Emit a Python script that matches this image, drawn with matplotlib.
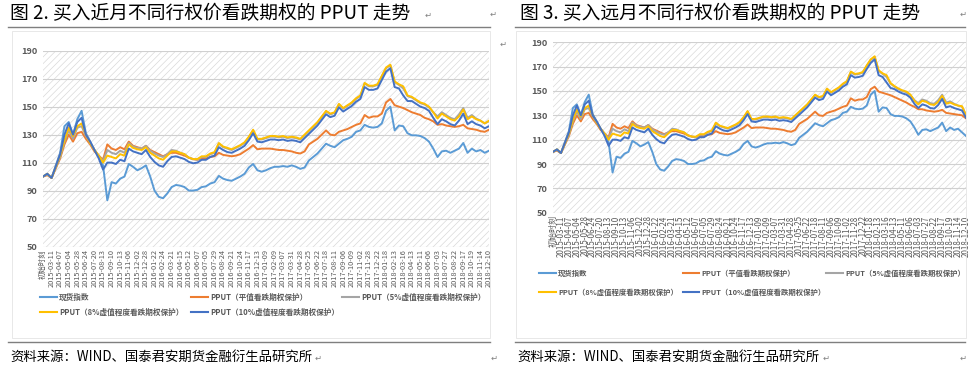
import matplotlib
matplotlib.use("Agg")
import matplotlib.pyplot as plt
from matplotlib.patches import Rectangle
from matplotlib.lines import Line2D

plt.rcParams['font.family'] = ['Noto Sans CJK SC', 'DejaVu Sans']
plt.rcParams['hatch.linewidth'] = 0.5

# tick labels (one every second point)
dates = ["初始时刻", "2015-03-11", "2015-04-07", "2015-05-04", "2015-05-28", "2015-06-24",
         "2015-07-20", "2015-08-13", "2015-09-10", "2015-10-13", "2015-11-06", "2015-12-02",
         "2015-12-28", "2016-01-22", "2016-02-24", "2016-03-21", "2016-04-15", "2016-05-12",
         "2016-06-07", "2016-07-05", "2016-07-29", "2016-08-24", "2016-09-21", "2016-10-24",
         "2016-11-17", "2016-12-13", "2017-01-09", "2017-02-09", "2017-03-07", "2017-03-31",
         "2017-04-28", "2017-05-25", "2017-06-22", "2017-07-18", "2017-08-11", "2017-09-06",
         "2017-10-09", "2017-11-02", "2017-11-28", "2017-12-22", "2018-01-18", "2018-02-13",
         "2018-03-16", "2018-04-13", "2018-05-11", "2018-06-06", "2018-07-03", "2018-07-27",
         "2018-08-22", "2018-09-17", "2018-10-19", "2018-11-14", "2018-12-10"]

names = ["现货指数", "PPUT（平值看跌期权保护）", "PPUT（5%虚值程度看跌期权保护）",
         "PPUT（8%虚值程度看跌期权保护）", "PPUT（10%虚值程度看跌期权保护）"]
colors = ["#5B9BD5", "#ED7D31", "#A5A5A5", "#FFC000", "#4472C4"]

# ---- near month (图2) ----
spot_near = [100, 102, 99, 108, 117, 136, 139, 130, 141, 147, 131, 125, 119, 114, 108,
             83, 96, 95, 98.5, 100, 109, 107, 104.5, 106, 108, 100, 90, 85.5, 84.5, 88,
             92.5, 94, 93.5, 92.5, 90, 90, 90.5, 92.5, 93, 95, 96, 100.5, 98.5, 97.5, 97,
             98.5, 100, 102, 106.5, 109, 104.5, 103.5, 104.5, 106, 107, 107, 107.5, 107, 108, 107,
             105.5, 106.5, 111.5, 114, 116.5, 120, 123.5, 122, 121, 123.5, 126, 127, 128.5, 132, 133,
             137, 135.5, 135, 135.5, 138, 147, 150, 133, 136.5, 136, 131, 129.5, 129.5, 129, 127.5,
             125, 120, 114, 118, 118.5, 117, 118.5, 120, 124, 117, 120, 118, 119, 117, 118.5]
orange_near = [100, 101, 99, 106, 113, 123, 130, 125, 131, 132, 127, 123, 118, 115, 112,
               123, 120, 119, 121, 119.5, 125, 122, 121, 120, 122, 119, 117.5, 116, 114.5, 116,
               117, 117, 116, 115, 113.5, 112.5, 112, 113, 113, 114, 114.5, 117, 115.5, 115, 114.5,
               115, 116, 118, 120, 122.5, 119.5, 120, 120, 120, 119.5, 119, 119, 118.5, 118, 117,
               116.5, 118, 123, 125, 127, 130, 133, 130, 129.5, 132, 133, 134, 135.5, 137, 138,
               144, 142, 143, 143, 145, 153, 155.5, 151, 150, 149, 147.5, 146, 145, 144, 142,
               141, 139.5, 137, 137.5, 136.5, 136, 135.5, 136, 137, 134.5, 134, 133.5, 132.5, 132, 133.5]
gray_near = [100, 101.5, 99, 106.5, 114, 125, 133, 127, 135, 136, 129, 124, 119, 115, 111,
             119, 117, 116, 118.5, 117, 124, 121.5, 120.5, 120, 122, 118.5, 116.5, 115, 114, 116,
             119, 118.5, 117, 116, 113.5, 112.5, 112, 114, 114, 116, 117, 123.5, 121, 120, 119,
             120.5, 122, 124, 128, 133, 126.5, 126.5, 127.5, 128.5, 128.5, 128, 128.5, 127.5, 128, 127.5,
             126.5, 129.5, 132.5, 135.5, 138.5, 142.5, 146.5, 144.5, 145.5, 151.5, 148.5, 150.5, 152.5, 155.5, 157.5,
             166.5, 164.5, 164.5, 165.5, 171.5, 177.5, 179.5, 167.5, 165.5, 163, 157.5, 156.5, 154.5, 152.5, 151.5,
             149.5, 146, 143, 146, 144, 142, 141, 144.5, 149, 142, 144, 141.5, 140, 138, 139.5]
yellow_near = [100, 102, 99, 107, 115, 126, 135, 129, 136, 138, 130, 124, 119, 115, 110,
               115, 114, 113, 116, 115, 123, 120.5, 119.5, 119, 121, 117, 115, 113, 112, 115,
               118, 118, 117, 116, 113.5, 112.5, 112.5, 114.5, 114.5, 116.5, 117.5, 124, 121.5, 120.5, 119.5,
               121, 122.5, 124.5, 128.5, 133.5, 127, 127, 128, 129, 129, 128.5, 129, 128, 128.5, 128,
               127, 130, 133, 136, 139, 143, 147, 145, 146, 152, 149, 151, 153, 156, 158,
               167, 165, 165, 166, 172, 178, 180, 168, 166, 164.5, 158, 157, 155, 153, 152,
               150, 146, 141.5, 145, 143, 141, 140, 143, 148, 141, 143, 141, 140, 138, 140]
dark_near = [100, 102, 99, 107.5, 116, 130, 138, 130, 139, 142, 130, 125, 119, 113, 105,
             110, 110, 109, 112, 111, 120, 118, 117, 116, 119, 114, 110.5, 108, 107, 111,
             114, 114.5, 113.5, 112.5, 110.5, 109.5, 110, 112, 112, 114, 115, 121, 119, 117.5, 117,
             118.5, 120, 122, 126, 131, 125, 124.5, 125.5, 126.5, 126.5, 126, 126.5, 125.5, 126, 125.5,
             124.5, 127.5, 130.5, 133.5, 136.5, 140.5, 144.5, 142.5, 143.5, 149.5, 146.5, 148.5, 150.5, 153.5, 155.5,
             164, 162, 162, 163, 169, 175, 177.5, 164, 163, 158, 154, 154, 152, 150, 149,
             147, 142, 137.5, 141, 139.5, 137.5, 136.5, 140, 145, 137.5, 139.5, 137.5, 136.5, 134.5, 136]

# ---- far month (图3) ----
spot_far = [100, 102, 99, 108, 117, 136, 139, 130, 141, 147, 131, 125, 119, 114, 108,
            83, 96, 95, 98.5, 100, 109, 107, 104.5, 106, 108, 100, 90, 85.5, 84.5, 88,
            92.5, 94, 93.5, 92.5, 90, 90, 90.5, 92.5, 93, 95, 96, 100.5, 98.5, 97.5, 97,
            98.5, 100, 102, 106.5, 109, 104.5, 103.5, 104.5, 106, 107, 107, 107.5, 107, 108, 107,
            105.5, 106.5, 111.5, 114, 116.5, 120, 123.5, 122, 121, 123.5, 126, 127, 128.5, 132, 133,
            137, 135.5, 135, 135.5, 138, 147, 150, 133, 136.5, 136, 131, 129.5, 129.5, 129, 127.5,
            125, 120, 114, 118, 118.5, 117, 118.5, 120, 124, 117, 120, 118, 119, 116, 113]
orange_far = [100, 101, 99, 106, 113, 123, 130, 125, 131, 132, 127, 123, 118, 115, 112,
              123, 120, 119, 121, 119.5, 125, 122, 121, 120, 122, 119, 117.5, 116, 114.5, 116,
              117, 117, 116, 115, 113.5, 112.5, 112, 113, 113, 114, 114.5, 117, 115.5, 115, 114.5,
              115, 116, 118, 120, 122.5, 119.5, 120, 120, 120, 119.5, 119, 119, 118.5, 118, 117,
              116.5, 118, 123, 125, 127, 130, 133, 130, 129.5, 132, 133, 134, 135.5, 137, 138,
              144, 142, 143, 143, 145, 151.5, 153.5, 149.5, 148.5, 147.5, 146.5, 145, 143.5, 142, 140.5,
              138.5, 137, 135, 135, 134, 133.5, 133, 133.5, 134.5, 132, 131.5, 131, 130.5, 130, 127.5]
gray_far = [100, 101.5, 99, 106.5, 114, 125, 133, 127, 135, 136, 129, 124, 119, 115, 111,
            119, 117, 116, 118.5, 117, 124, 121.5, 120.5, 120, 122, 118.5, 116.5, 115, 114, 116,
            119, 118.5, 117, 116, 113.5, 112.5, 112, 114, 114, 116, 117, 123.5, 121, 120, 119,
            120.5, 122, 124, 128, 133, 126.5, 126.5, 127.5, 128.5, 128.5, 128, 128.5, 127.5, 128, 127.5,
            126.5, 129.5, 132.5, 135.5, 138.5, 142.5, 146.5, 144.5, 145.5, 151.5, 148.5, 150.5, 152.5, 155.5, 157.5,
            165.5, 163.5, 164, 165, 170.5, 175.5, 178, 166.5, 164, 161.5, 156, 153.5, 151.5, 150, 149,
            146.5, 142.5, 140, 143, 142, 140, 139.5, 142.5, 147, 140.5, 141.5, 139.5, 138, 137, 130.5]
yellow_far = [100, 102, 99, 107, 115, 126, 135, 129, 136, 138, 130, 124, 119, 115, 110,
              115, 114, 113, 116, 115, 123, 120.5, 119.5, 119, 121, 117, 115, 113, 112, 115,
              118, 118, 117, 116, 113.5, 112.5, 112.5, 114.5, 114.5, 116.5, 117.5, 124, 121.5, 120.5, 119.5,
              121, 122.5, 124.5, 128.5, 133.5, 127, 127, 128, 129, 129, 128.5, 129, 128, 128.5, 128,
              127, 130, 133, 136, 139, 143, 147, 145, 146, 152, 149, 151, 153, 156, 158,
              166, 164, 164.5, 165.5, 171, 176, 178.5, 167, 164.5, 163, 156.5, 154, 152, 150.5, 149.5,
              147, 142, 139, 142, 141, 139, 138.5, 141, 146, 139.5, 140.5, 139, 138, 137.5, 130]
dark_far = [100, 102, 99, 107.5, 116, 130, 138, 130, 139, 142, 130, 125, 119, 113, 105,
            110, 110, 109, 112, 111, 120, 118, 117, 116, 119, 114, 110.5, 108, 107, 111,
            114, 114.5, 113.5, 112.5, 110.5, 109.5, 110, 112, 112, 114, 115, 121, 119, 117.5, 117,
            118.5, 120, 122, 126, 131, 125, 124.5, 125.5, 126.5, 126.5, 126, 126.5, 125.5, 126, 125.5,
            124.5, 127.5, 130.5, 133.5, 136.5, 140.5, 144.5, 142.5, 143.5, 149.5, 146.5, 148.5, 150.5, 153.5, 155.5,
            163, 161, 161.5, 162.5, 168, 173, 176, 163, 161.5, 157, 152.5, 151.5, 149.5, 148, 147,
            144.5, 139.5, 136, 139, 138, 136, 135.5, 138.5, 143.5, 136.5, 137.5, 136, 135, 134, 128]

W, H = 970, 368
fig = plt.figure(figsize=(W / 100, H / 100), dpi=100)


def fx(x):
    return x / W


def fy(y):
    return 1 - y / H


grey_txt = "#595959"


def draw_panel(box, series, xfs):
    left, top, right, bottom = box
    ax = fig.add_axes([fx(left), fy(bottom), fx(right) - fx(left), fy(top) - fy(bottom)])
    ax.add_patch(Rectangle((0, 0), 1, 1, transform=ax.transAxes, facecolor="white",
                           edgecolor="#d9d9d9", lw=0, hatch="/////", zorder=0))
    n = len(series[0])
    x = list(range(n))
    for vals, c in zip(series, colors):
        ax.plot(x, vals, color=c, lw=1.4, zorder=3)
    ax.set_xlim(0, n - 1)
    ax.set_ylim(50, 190)
    ax.set_yticks(range(50, 191, 20))
    ax.set_xticks(range(0, n, 2))
    ax.set_xticklabels(dates, rotation=90, fontsize=xfs, color=grey_txt)
    ax.grid(axis="y", color="#d0d0d0", lw=0.8)
    ax.set_axisbelow(True)
    for s in ax.spines.values():
        s.set_visible(False)
    ax.tick_params(length=0, pad=2)
    ax.tick_params(axis="y", labelsize=6.6, labelcolor=grey_txt, pad=4)
    for t in ax.get_yticklabels():
        t.set_fontweight("bold")
    return ax


def draw_legend(x0, cols, rows_y, fs):
    pos = [(0, 0), (1, 0), (2, 0), (0, 1), (1, 1)]
    for (ci, ri), name, c in zip(pos, names, colors):
        xs = x0 + cols * ci
        y = rows_y[ri]
        fig.add_artist(Line2D([fx(xs), fx(xs + 17)], [fy(y), fy(y)], color=c, lw=1.5))
        fig.text(fx(xs + 19), fy(y), name, fontsize=fs, color=grey_txt,
                 fontweight="bold", va="center", ha="left")


# panel frames and rules
for l, r in [(12, 490), (516, 966)]:
    fig.add_artist(Rectangle((fx(l), fy(338)), fx(r) - fx(l), fy(31) - fy(338),
                             transform=fig.transFigure, fill=False, edgecolor="#e4e4e4", lw=0.6))
for l, r in [(8, 490), (515, 965)]:
    fig.add_artist(Line2D([fx(l), fx(r)], [fy(27), fy(27)], color="#7f7f7f", lw=1.0))
    fig.add_artist(Line2D([fx(l), fx(r)], [fy(342), fy(342)], color="#7f7f7f", lw=1.0))

draw_panel((43, 50.7, 489, 246.5),
           [spot_near, orange_near, gray_near, yellow_near, dark_near], 5.3)
draw_panel((553, 42.3, 966, 212.7),
           [spot_far, orange_far, gray_far, yellow_far, dark_far], 5.8)

draw_legend(40, 151, [297, 312], 5.5)
draw_legend(539, 143.5, [273, 292], 5.3)

# titles and source lines
fig.text(fx(10), fy(14), "图 2. 买入近月不同行权价看跌期权的 PPUT 走势", fontsize=13.5,
         color="#000000", va="center", ha="left")
fig.text(fx(520), fy(14), "图 3. 买入远月不同行权价看跌期权的 PPUT 走势", fontsize=13.5,
         color="#000000", va="center", ha="left")
fig.text(fx(10), fy(357), "资料来源：WIND、国泰君安期货金融衍生品研究所", fontsize=9.6,
         color="#000000", va="center", ha="left")
fig.text(fx(517), fy(357), "资料来源：WIND、国泰君安期货金融衍生品研究所", fontsize=9.6,
         color="#000000", va="center", ha="left")

# paragraph marks from the document
for x, y in [(428, 15), (493, 14), (963, 14), (503, 44), (318, 358), (494, 358), (826, 358), (963, 358)]:
    fig.text(fx(x), fy(y), "↵", fontsize=6, color="#808080", va="center", ha="center",
             family="DejaVu Sans")

fig.savefig("out.png", dpi=100)
